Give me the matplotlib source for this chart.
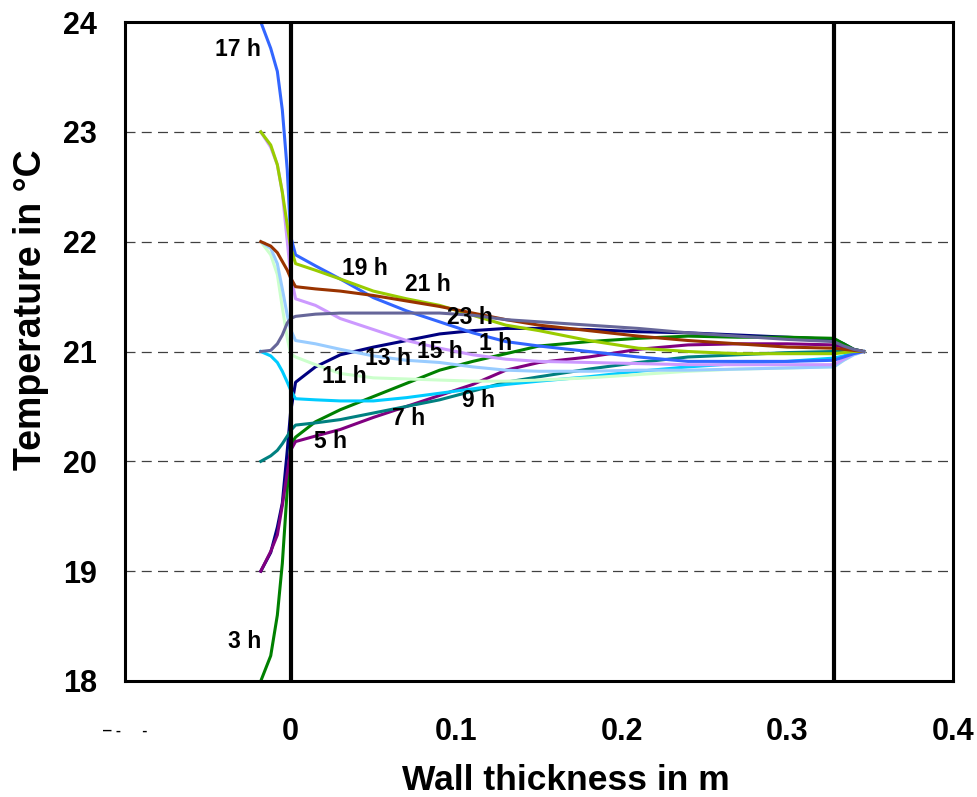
import matplotlib
matplotlib.use('Agg')
import matplotlib.pyplot as plt

plt.rcParams['font.family'] = ['Liberation Sans', 'DejaVu Sans']
plt.rcParams['font.weight'] = 'bold'

# ── data ─────────────────────────────────────────────────────────────────────
# position through the room air / wall / outside air (m)
x_pos = [-0.018, -0.012, -0.008, -0.005, -0.002, 0.0, 0.003, 0.015, 0.03, 0.05,
         0.07, 0.09, 0.11, 0.13, 0.15, 0.18, 0.21, 0.24, 0.27, 0.30,
         0.328, 0.334, 0.340, 0.346]

t_01h = [19.0, 19.17, 19.4, 19.62, 20.1, 20.45, 20.72, 20.86, 20.97, 21.04,
         21.1, 21.16, 21.19, 21.21, 21.21, 21.2, 21.18, 21.17, 21.15, 21.13,
         21.11, 21.07, 21.02, 21.0]
t_03h = [18.0, 18.23, 18.6, 19.07, 19.75, 20.15, 20.22, 20.36, 20.47, 20.59,
         20.71, 20.83, 20.91, 20.98, 21.05, 21.09, 21.12, 21.14, 21.13, 21.13,
         21.12, 21.07, 21.02, 21.0]
t_05h = [19.0, 19.18, 19.33, 19.6, 19.9, 20.1, 20.18, 20.23, 20.29, 20.4,
         20.5, 20.6, 20.7, 20.83, 20.9, 20.95, 21.02, 21.06, 21.07, 21.07,
         21.06, 21.04, 21.01, 21.0]
t_07h = [20.0, 20.05, 20.1, 20.16, 20.23, 20.28, 20.33, 20.35, 20.38, 20.44,
         20.5, 20.56, 20.64, 20.72, 20.77, 20.84, 20.9, 20.95, 20.97, 20.99,
         21.0, 21.0, 21.0, 21.0]
t_09h = [21.0, 20.96, 20.9, 20.82, 20.72, 20.65, 20.57, 20.56, 20.55, 20.55,
         20.58, 20.62, 20.66, 20.7, 20.73, 20.77, 20.82, 20.86, 20.89, 20.91,
         20.94, 20.96, 20.99, 21.0]
t_11h = [22.0, 21.88, 21.7, 21.4, 21.12, 20.98, 20.95, 20.88, 20.8, 20.76,
         20.75, 20.74, 20.73, 20.73, 20.74, 20.76, 20.79, 20.82, 20.84, 20.85,
         20.86, 20.92, 20.97, 21.0]
t_13h = [22.0, 21.94, 21.8, 21.57, 21.33, 21.2, 21.1, 21.07, 21.02, 20.96,
         20.92, 20.9, 20.86, 20.83, 20.82, 20.82, 20.83, 20.83, 20.84, 20.85,
         20.86, 20.92, 20.97, 21.0]
t_15h = [23.0, 22.86, 22.7, 22.45, 22.0, 21.7, 21.48, 21.42, 21.3, 21.2,
         21.1, 21.03, 20.97, 20.93, 20.91, 20.9, 20.89, 20.88, 20.88, 20.88,
         20.88, 20.93, 20.98, 21.0]
t_17h = [24.0, 23.76, 23.55, 23.2, 22.65, 22.05, 21.88, 21.78, 21.66, 21.49,
         21.37, 21.27, 21.17, 21.09, 21.05, 21.0, 20.95, 20.91, 20.91, 20.91,
         20.92, 20.95, 20.98, 21.0]
t_19h = [23.0, 22.88, 22.7, 22.45, 22.15, 21.95, 21.8, 21.74, 21.66, 21.55,
         21.48, 21.42, 21.33, 21.24, 21.19, 21.1, 21.03, 21.0, 20.98, 20.98,
         20.98, 20.99, 21.0, 21.0]
t_21h = [22.0, 21.96, 21.9, 21.82, 21.74, 21.67, 21.59, 21.57, 21.55, 21.51,
         21.46, 21.41, 21.35, 21.29, 21.24, 21.19, 21.14, 21.1, 21.07, 21.04,
         21.03, 21.02, 21.01, 21.0]
t_23h = [21.0, 21.01, 21.07, 21.15, 21.26, 21.3, 21.32, 21.34, 21.35, 21.35,
         21.35, 21.35, 21.33, 21.29, 21.27, 21.24, 21.21, 21.17, 21.14, 21.11,
         21.09, 21.05, 21.02, 21.0]

hour_labels = ['1 h', '3 h', '5 h', '7 h', '9 h', '11 h',
               '13 h', '15 h', '17 h', '19 h', '21 h', '23 h']
profiles = [t_01h, t_03h, t_05h, t_07h, t_09h, t_11h,
            t_13h, t_15h, t_17h, t_19h, t_21h, t_23h]

wall_faces = [0.0, 0.328]
y_ticks = [18, 19, 20, 21, 22, 23, 24]
x_ticks = [-0.1, 0, 0.1, 0.2, 0.3, 0.4]
x_tick_labels = ['', '0', '0.1', '0.2', '0.3', '0.4']

# ── styling ──────────────────────────────────────────────────────────────────
colors = ['#000080', '#008000', '#800080', '#008080', '#00CCFF', '#CCFFCC',
          '#99CCFF', '#CC99FF', '#3366FF', '#99CC00', '#993300', '#666699']

# label anchor positions (data coords)
label_pos = {
    '1 h': (0.124, 21.07), '3 h': (-0.028, 18.36), '5 h': (0.024, 20.18),
    '7 h': (0.071, 20.39), '9 h': (0.1135, 20.55), '11 h': (0.0326, 20.77),
    '13 h': (0.059, 20.94), '15 h': (0.090, 21.00), '17 h': (-0.032, 23.75),
    '19 h': (0.045, 21.76), '21 h': (0.083, 21.61), '23 h': (0.108, 21.31),
}

fig = plt.figure(figsize=(9.78, 7.97), dpi=100)
ax = fig.add_axes([125/978, 1 - 681/797, 828/978, 659/797])

for yv in [19, 20, 21, 22, 23]:
    ax.axhline(yv, color='#404040', lw=0.9, ls=(0, (8, 5)), zorder=1)

for prof, col in zip(profiles, colors):
    ax.plot(x_pos, prof, color=col, lw=2.2, zorder=2, solid_joinstyle='round')

for xw in wall_faces:
    ax.axvline(xw, color='black', lw=3.0, zorder=4)

for lab in hour_labels:
    px, py = label_pos[lab]
    ax.text(px, py, lab, ha='center', va='center', fontsize=16.5,
            fontweight='bold', color='black', zorder=5)

ax.set_xlim(-0.1, 0.4)
ax.set_ylim(18, 24)
ax.set_yticks(y_ticks)
ax.set_xticks(x_ticks)
ax.set_xticklabels(x_tick_labels)
ax.tick_params(axis='both', length=0, labelsize=22)
ax.tick_params(axis='y', pad=20)
ax.tick_params(axis='x', pad=26)
for lab in ax.get_xticklabels() + ax.get_yticklabels():
    lab.set_fontweight('bold')

# the -0.1 tick label comes out as broken dashes in the original
ax.text(-0.1, -0.076, '\u2012 -     -', transform=ax.get_xaxis_transform(),
        ha='center', va='center', fontsize=11, color='black')

for sp in ax.spines.values():
    sp.set_linewidth(2.2)
    sp.set_color('black')

ax.set_xlabel('Wall thickness in m', fontsize=25.5, fontweight='bold')
ax.set_ylabel('Temperature in \u00b0C', fontsize=27, fontweight='bold')
ax.xaxis.set_label_coords((566 - 125) / 828, -(780 - 681) / 659)
ax.yaxis.set_label_coords(-(125 - 31) / 828, (681 - 310) / 659)
ax.xaxis.label.set_va('center')
ax.yaxis.label.set_va('center')

fig.savefig('out.png', dpi=100)
